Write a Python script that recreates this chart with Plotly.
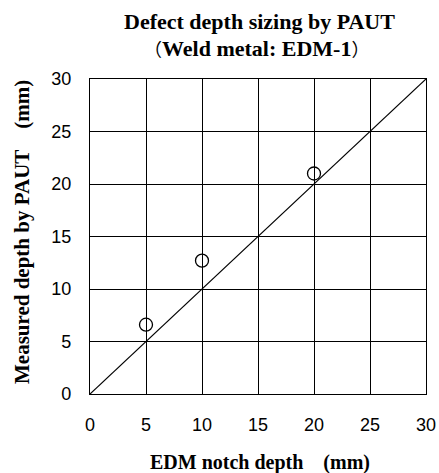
import plotly.graph_objects as go

notch_depth = [5, 10, 20]
measured_depth = [6.6, 12.7, 21.0]
ref_line_x = [0, 30]
ref_line_y = [0, 30]
tick_vals = [0, 5, 10, 15, 20, 25, 30]

serif = "Liberation Serif, Times New Roman, serif"
sans = "Liberation Sans, Arial, sans-serif"
cjk = "Noto Sans CJK JP"

plot_top, plot_bottom, plot_left, plot_right = 79, 394, 90, 426
W, H = 439, 473
ph = plot_bottom - plot_top
pw = plot_right - plot_left


def py(ypix):
    return (plot_bottom - ypix) / ph


def px(xpix):
    return (xpix - plot_left) / pw


fig = go.Figure()
fig.add_trace(go.Scatter(x=ref_line_x, y=ref_line_y, mode="lines",
                         line=dict(color="black", width=1.2), showlegend=False,
                         hoverinfo="skip"))
fig.add_trace(go.Scatter(x=notch_depth, y=measured_depth, mode="markers",
                         marker=dict(symbol="circle-open", size=13,
                                     color="black", line=dict(width=1.3)),
                         showlegend=False))

axis_common = dict(range=[0, 30], tickvals=tick_vals, showgrid=True,
                   gridcolor="black", gridwidth=1, zeroline=False,
                   showline=True, linecolor="black", linewidth=1.3, mirror=True,
                   ticks="", tickfont=dict(family=sans, size=18, color="black"),
                   fixedrange=True, automargin=False)

fig.update_xaxes(**axis_common, ticklabelstandoff=14)
fig.update_yaxes(**axis_common, ticklabelstandoff=14)

lp = f"<span style='font-family:{cjk};font-weight:normal;font-size:18px'>（</span>"
rp = f"<span style='font-family:{cjk};font-weight:normal;font-size:18px'>）</span>"

fig.update_layout(
    width=W, height=H,
    margin=dict(l=plot_left, r=W - plot_right, t=plot_top, b=H - plot_bottom),
    plot_bgcolor="white", paper_bgcolor="white",
    annotations=[
        dict(text="<b>Defect depth sizing by PAUT</b>", x=px(259), y=py(22),
             xref="paper", yref="paper", showarrow=False,
             xanchor="center", yanchor="middle",
             font=dict(family=serif, size=22, color="black")),
        dict(text=f"{lp}<b>Weld metal: EDM-1</b>{rp}", x=px(256), y=py(48),
             xref="paper", yref="paper", showarrow=False,
             xanchor="center", yanchor="middle",
             font=dict(family=serif, size=22, color="black")),
        dict(text="<b>EDM notch depth\u2003(mm)</b>", x=px(260), y=py(462),
             xref="paper", yref="paper", showarrow=False,
             xanchor="center", yanchor="middle",
             font=dict(family=serif, size=20, color="black")),
        dict(text="<b>Measured depth by PAUT\u2003(mm)</b>", x=px(22), y=py(232),
             xref="paper", yref="paper", showarrow=False, textangle=-90,
             xanchor="center", yanchor="middle",
             font=dict(family=serif, size=21, color="black")),
    ],
)

fig.write_html("out.html", post_script="document.body.style.margin='0';",
               config={"displayModeBar": False})
